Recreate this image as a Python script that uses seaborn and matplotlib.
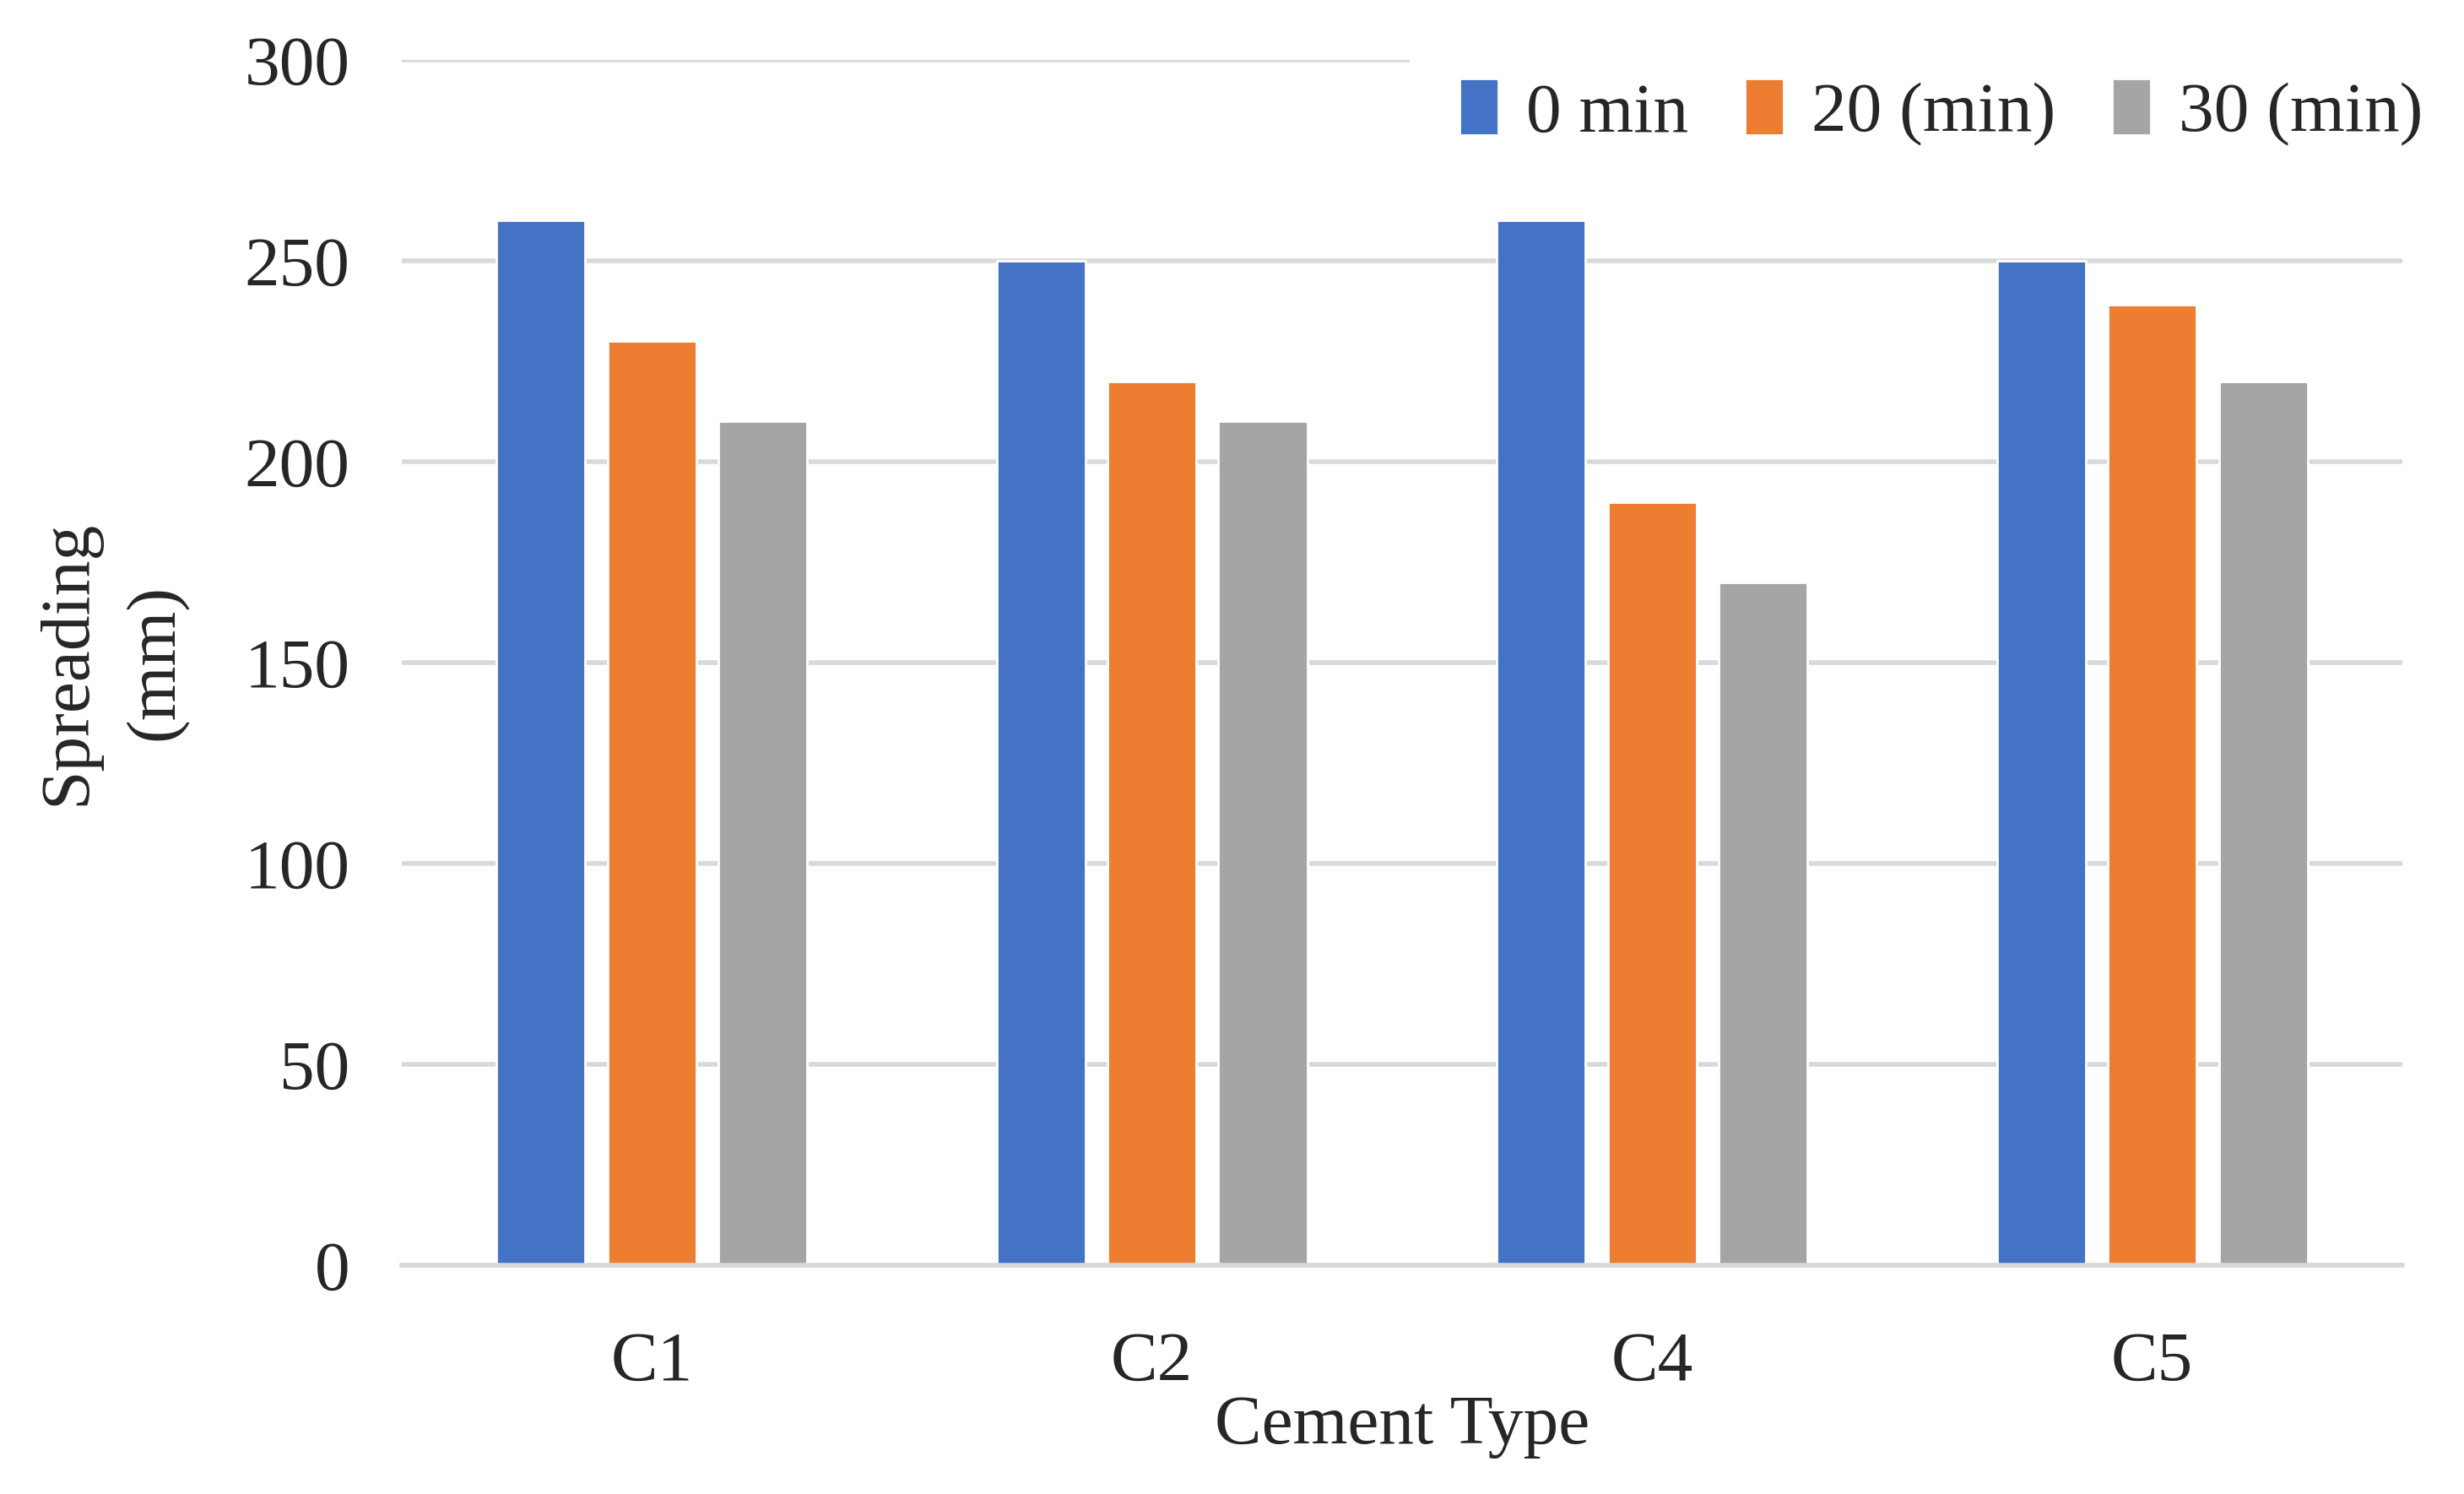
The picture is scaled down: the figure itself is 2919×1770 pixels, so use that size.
import pandas as pd
import matplotlib.pyplot as plt
import seaborn as sns

cement = ['C1', 'C2', 'C4', 'C5']
min_0 = [260, 250, 260, 250]
min_20 = [230, 220, 190, 239]
min_30 = [210, 210, 170, 220]
series_names = ['0 min', '20 (min)', '30 (min)']
colors = ['#4472C4', '#ED7D31', '#A5A5A5']

data = pd.DataFrame({
    'Cement Type': cement * 3,
    'Spreading': min_0 + min_20 + min_30,
    'Time': [s for s in series_names for _ in cement],
})

sns.set_style('white')
plt.rcParams['font.family'] = ['Liberation Serif', 'DejaVu Serif']

fig = plt.figure(figsize=(14.595, 8.85), dpi=200)
ax = fig.add_axes([0.163, 0.153, 0.812, 0.807])

sns.barplot(x='Cement Type', y='Spreading', hue='Time', data=data,
            palette=colors, width=0.665, gap=0.2, saturation=1,
            ax=ax, zorder=2)

ax.set_ylim(0, 300)
ax.set_xlim(-0.5, 3.5)
ax.set_yticks(range(0, 301, 50))
ax.yaxis.grid(True, color='#d9d9d9', linewidth=2, zorder=0)
ax.set_axisbelow(True)
for s in ['top', 'right', 'left']:
    ax.spines[s].set_visible(False)
ax.spines['bottom'].set_color('#d9d9d9')
ax.spines['bottom'].set_linewidth(2)
ax.tick_params(axis='both', length=0, labelsize=30)
ax.tick_params(axis='x', pad=28)
ax.tick_params(axis='y', pad=22)

ax.set_xlabel('Cement Type', fontsize=30, labelpad=0)
ax.set_ylabel('Spreading\n(mm)', fontsize=30, labelpad=24, linespacing=1.5)

ax.legend(loc='upper right', bbox_to_anchor=(1.035, 1.025), ncol=3,
          frameon=True, framealpha=1, edgecolor='white', fontsize=30,
          handlelength=0.55, handleheight=0.85, handletextpad=0.4,
          columnspacing=0.8, borderaxespad=0, borderpad=0.7)

fig.savefig('out.png', dpi=200, facecolor='white')
